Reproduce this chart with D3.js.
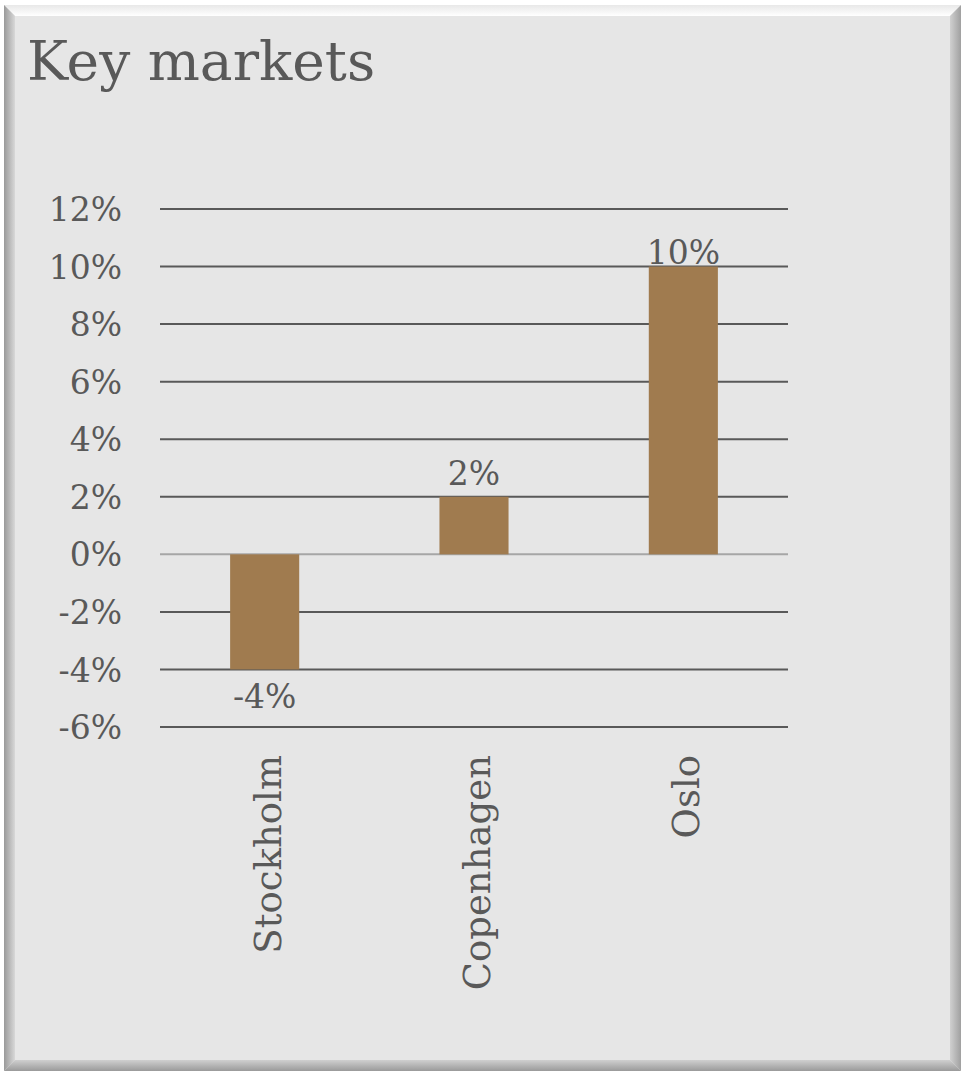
<!DOCTYPE html>
<html>
<head>
<meta charset="utf-8">
<script src="https://cdnjs.cloudflare.com/ajax/libs/d3/7.8.5/d3.min.js"></script>
<style>
  body { margin: 0; background: #ffffff; }
  svg text { font-family: Georgia, "DejaVu Serif", serif; fill: #595959; }
</style>
</head>
<body>
<div id="chart"></div>
<script>
var markets = ["Stockholm", "Copenhagen", "Oslo"];
var growth = [-4, 2, 10];
var yTicks = [-6, -4, -2, 0, 2, 4, 6, 8, 10, 12];

var w = 962, h = 1072;

var svg = d3.select("#chart")
            .append("svg")
            .attr("width", w)
            .attr("height", h);

// bevelled frame, gradients give it the soft edge look
var defs = svg.append("defs");
function grad(id, x1, y1, x2, y2, c1, c2) {
  var g = defs.append("linearGradient").attr("id", id)
              .attr("x1", x1).attr("y1", y1).attr("x2", x2).attr("y2", y2);
  g.append("stop").attr("offset", "0").attr("stop-color", c1);
  g.append("stop").attr("offset", "1").attr("stop-color", c2);
}
grad("gTop", 0, 0, 0, 1, "#e8e8e8", "#ffffff");
grad("gLeft", 0, 0, 1, 0, "#9a9a9a", "#d8d8d8");
grad("gRight", 0, 0, 1, 0, "#d0d0d0", "#a0a0a0");
grad("gBottom", 0, 0, 0, 1, "#cfcfcf", "#9a9a9a");

var x0 = 4, y0 = 5, x1 = 961, y1 = 1071, b = 11;
svg.append("rect")
   .attr("x", x0).attr("y", y0)
   .attr("width", x1 - x0).attr("height", y1 - y0)
   .attr("fill", "#e6e6e6");
var bevel = [
  { pts: [[x0, y0], [x1, y0], [x1 - b, y0 + b], [x0 + b, y0 + b]], c: "url(#gTop)" },
  { pts: [[x0, y0], [x0 + b, y0 + b], [x0 + b, y1 - b], [x0, y1]], c: "url(#gLeft)" },
  { pts: [[x1, y0], [x1, y1], [x1 - b, y1 - b], [x1 - b, y0 + b]], c: "url(#gRight)" },
  { pts: [[x0, y1], [x0 + b, y1 - b], [x1 - b, y1 - b], [x1, y1]], c: "url(#gBottom)" }
];
svg.selectAll("polygon.bevel")
   .data(bevel)
   .enter()
   .append("polygon")
   .attr("class", "bevel")
   .attr("points", d => d.pts.map(p => p.join(",")).join(" "))
   .attr("fill", d => d.c);

svg.append("text")
   .attr("x", 27)
   .attr("y", 80)
   .attr("font-size", 55)
   .text("Key markets");

var x = d3.scaleBand()
          .domain(markets)
          .range([160, 788])
          .paddingInner(0.67)
          .paddingOuter(0.335);

var y = d3.scaleLinear()
          .domain([-6, 12])
          .range([727, 209]);

svg.selectAll("line.grid")
   .data(yTicks)
   .enter()
   .append("line")
   .attr("class", "grid")
   .attr("x1", 160).attr("x2", 788)
   .attr("y1", d => y(d)).attr("y2", d => y(d))
   .attr("stroke", d => d === 0 ? "#a6a6a6" : "#595959")
   .attr("stroke-width", 2);

var yAxis = d3.axisLeft(y)
              .tickValues(yTicks)
              .tickSize(0)
              .tickPadding(0)
              .tickFormat(d => d + "%");

svg.append("g")
   .attr("transform", "translate(122,0)")
   .call(yAxis)
   .call(g => g.select(".domain").remove())
   .selectAll("text")
   .attr("font-size", 33)
   .attr("dy", "0.35em");

svg.selectAll("rect.bar")
   .data(growth)
   .enter()
   .append("rect")
   .attr("class", "bar")
   .attr("x", (d, i) => x(markets[i]))
   .attr("width", x.bandwidth())
   .attr("y", d => y(Math.max(0, d)))
   .attr("height", d => Math.abs(y(d) - y(0)))
   .attr("fill", "#a07b4f");

// labels above bars are kept from climbing too far into the top of the plot
var labelTop = y(12) + 55;
svg.selectAll("text.val")
   .data(growth)
   .enter()
   .append("text")
   .attr("class", "val")
   .attr("x", (d, i) => x(markets[i]) + x.bandwidth() / 2)
   .attr("y", d => d < 0 ? y(d) + 39 : Math.max(y(d) - 12, labelTop))
   .attr("text-anchor", "middle")
   .attr("font-size", 33)
   .text(d => d + "%");

svg.selectAll("text.cat")
   .data(markets)
   .enter()
   .append("text")
   .attr("class", "cat")
   .attr("transform", d => "translate(" + (x(d) + x.bandwidth() / 2 + 16) + ",755) rotate(-90)")
   .attr("text-anchor", "end")
   .attr("font-size", 37)
   .text(d => d);
</script>
</body>
</html>
